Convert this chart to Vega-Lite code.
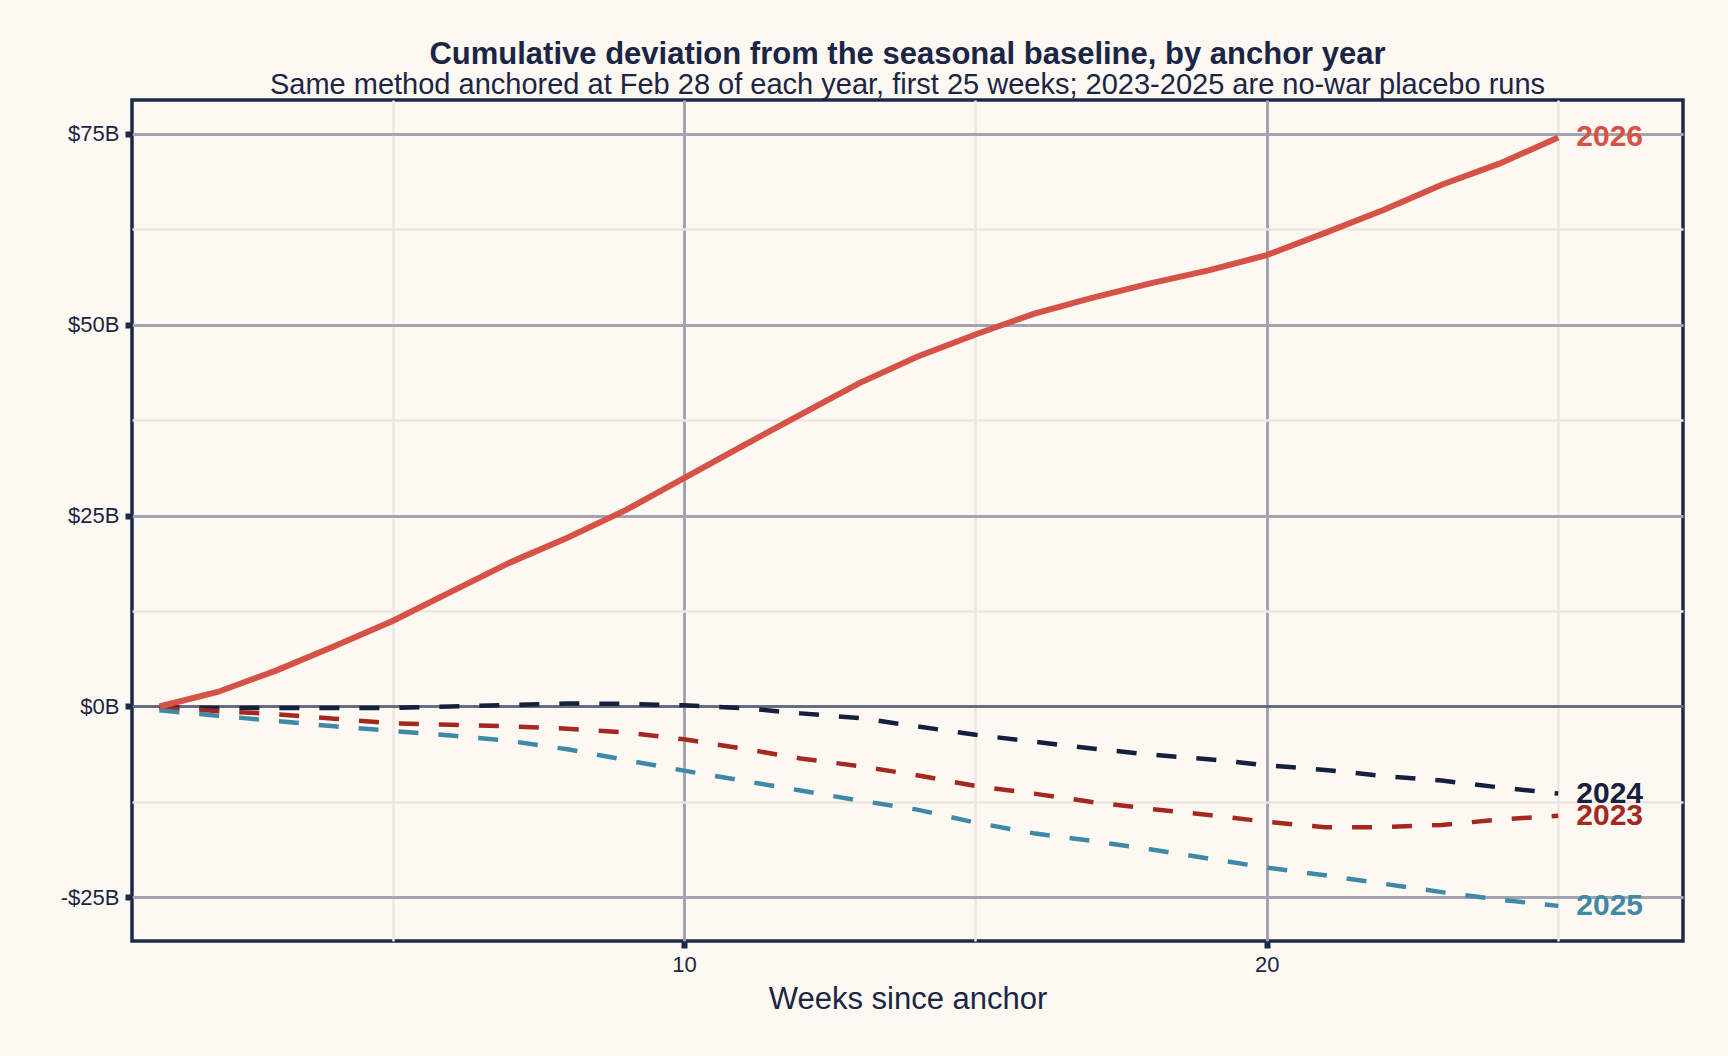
{
  "$schema": "https://vega.github.io/schema/vega-lite/v6.json",
  "width": 1551,
  "height": 841,
  "autosize": {"type": "none"},
  "padding": {"left": 132, "top": 100, "right": 45, "bottom": 115},
  "background": "#fdf8f1",
  "config": {
    "font": "Liberation Sans",
    "view": {"stroke": "#1b2a4a", "strokeWidth": 3.5, "fill": "#fdf8f1"}
  },
  "title": {
    "text": "Cumulative deviation from the seasonal baseline, by anchor year",
    "subtitle": "Same method anchored at Feb 28 of each year, first 25 weeks; 2023-2025 are no-war placebo runs",
    "anchor": "middle",
    "frame": "group",
    "font": "Liberation Sans",
    "fontSize": 31,
    "fontWeight": "bold",
    "color": "#1b2545",
    "subtitleFont": "Liberation Sans",
    "subtitleFontSize": 29,
    "subtitleColor": "#1b2545",
    "subtitlePadding": 0,
    "offset": -1
  },
  "data": {
    "values": [
      {"week": 1, "year": "2026", "value": 0},
      {"week": 2, "year": "2026", "value": 1.9},
      {"week": 3, "year": "2026", "value": 4.7},
      {"week": 4, "year": "2026", "value": 7.9},
      {"week": 5, "year": "2026", "value": 11.2},
      {"week": 6, "year": "2026", "value": 15.0},
      {"week": 7, "year": "2026", "value": 18.8},
      {"week": 8, "year": "2026", "value": 22.1},
      {"week": 9, "year": "2026", "value": 25.7},
      {"week": 10, "year": "2026", "value": 29.9},
      {"week": 11, "year": "2026", "value": 34.1},
      {"week": 12, "year": "2026", "value": 38.2},
      {"week": 13, "year": "2026", "value": 42.3},
      {"week": 14, "year": "2026", "value": 45.8},
      {"week": 15, "year": "2026", "value": 48.7},
      {"week": 16, "year": "2026", "value": 51.4},
      {"week": 17, "year": "2026", "value": 53.5},
      {"week": 18, "year": "2026", "value": 55.4},
      {"week": 19, "year": "2026", "value": 57.1},
      {"week": 20, "year": "2026", "value": 59.1},
      {"week": 21, "year": "2026", "value": 62.0},
      {"week": 22, "year": "2026", "value": 65.0},
      {"week": 23, "year": "2026", "value": 68.3},
      {"week": 24, "year": "2026", "value": 71.1},
      {"week": 25, "year": "2026", "value": 74.5},
      {"week": 1, "year": "2024", "value": -0.1},
      {"week": 2, "year": "2024", "value": -0.2},
      {"week": 3, "year": "2024", "value": -0.2},
      {"week": 4, "year": "2024", "value": -0.2},
      {"week": 5, "year": "2024", "value": -0.2},
      {"week": 6, "year": "2024", "value": 0.0},
      {"week": 7, "year": "2024", "value": 0.2},
      {"week": 8, "year": "2024", "value": 0.4},
      {"week": 9, "year": "2024", "value": 0.35},
      {"week": 10, "year": "2024", "value": 0.15},
      {"week": 11, "year": "2024", "value": -0.2},
      {"week": 12, "year": "2024", "value": -0.9},
      {"week": 13, "year": "2024", "value": -1.5},
      {"week": 14, "year": "2024", "value": -2.6},
      {"week": 15, "year": "2024", "value": -3.7},
      {"week": 16, "year": "2024", "value": -4.6},
      {"week": 17, "year": "2024", "value": -5.5},
      {"week": 18, "year": "2024", "value": -6.3},
      {"week": 19, "year": "2024", "value": -6.9},
      {"week": 20, "year": "2024", "value": -7.7},
      {"week": 21, "year": "2024", "value": -8.3},
      {"week": 22, "year": "2024", "value": -9.1},
      {"week": 23, "year": "2024", "value": -9.7},
      {"week": 24, "year": "2024", "value": -10.6},
      {"week": 25, "year": "2024", "value": -11.4},
      {"week": 1, "year": "2023", "value": -0.2},
      {"week": 2, "year": "2023", "value": -0.6},
      {"week": 3, "year": "2023", "value": -1.0},
      {"week": 4, "year": "2023", "value": -1.6},
      {"week": 5, "year": "2023", "value": -2.2},
      {"week": 6, "year": "2023", "value": -2.4},
      {"week": 7, "year": "2023", "value": -2.6},
      {"week": 8, "year": "2023", "value": -2.9},
      {"week": 9, "year": "2023", "value": -3.4},
      {"week": 10, "year": "2023", "value": -4.3},
      {"week": 11, "year": "2023", "value": -5.5},
      {"week": 12, "year": "2023", "value": -6.8},
      {"week": 13, "year": "2023", "value": -7.8},
      {"week": 14, "year": "2023", "value": -9.0},
      {"week": 15, "year": "2023", "value": -10.4},
      {"week": 16, "year": "2023", "value": -11.4},
      {"week": 17, "year": "2023", "value": -12.5},
      {"week": 18, "year": "2023", "value": -13.4},
      {"week": 19, "year": "2023", "value": -14.2},
      {"week": 20, "year": "2023", "value": -15.1},
      {"week": 21, "year": "2023", "value": -15.8},
      {"week": 22, "year": "2023", "value": -15.8},
      {"week": 23, "year": "2023", "value": -15.5},
      {"week": 24, "year": "2023", "value": -14.8},
      {"week": 25, "year": "2023", "value": -14.3},
      {"week": 1, "year": "2025", "value": -0.5},
      {"week": 2, "year": "2025", "value": -1.2},
      {"week": 3, "year": "2025", "value": -1.9},
      {"week": 4, "year": "2025", "value": -2.6},
      {"week": 5, "year": "2025", "value": -3.2},
      {"week": 6, "year": "2025", "value": -3.8},
      {"week": 7, "year": "2025", "value": -4.5},
      {"week": 8, "year": "2025", "value": -5.6},
      {"week": 9, "year": "2025", "value": -7.0},
      {"week": 10, "year": "2025", "value": -8.4},
      {"week": 11, "year": "2025", "value": -9.7},
      {"week": 12, "year": "2025", "value": -11.0},
      {"week": 13, "year": "2025", "value": -12.3},
      {"week": 14, "year": "2025", "value": -13.5},
      {"week": 15, "year": "2025", "value": -15.2},
      {"week": 16, "year": "2025", "value": -16.6},
      {"week": 17, "year": "2025", "value": -17.6},
      {"week": 18, "year": "2025", "value": -18.7},
      {"week": 19, "year": "2025", "value": -19.9},
      {"week": 20, "year": "2025", "value": -21.1},
      {"week": 21, "year": "2025", "value": -22.1},
      {"week": 22, "year": "2025", "value": -23.2},
      {"week": 23, "year": "2025", "value": -24.3},
      {"week": 24, "year": "2025", "value": -25.3},
      {"week": 25, "year": "2025", "value": -26.1}
    ]
  },
  "resolve": {"axis": {"x": "independent", "y": "independent"}},
  "layer": [
    {
      "mark": {"type": "line", "opacity": 0},
      "encoding": {
        "x": {
          "field": "week", "type": "quantitative",
          "scale": {"domain": [0.53, 27.14], "nice": false, "zero": false},
          "axis": {
            "orient": "top", "values": [5, 15, 25], "labels": false, "ticks": false,
            "domain": false, "title": null, "grid": true,
            "gridColor": "#ece7e0", "gridWidth": 2.5, "gridOpacity": 1
          }
        },
        "y": {
          "field": "value", "type": "quantitative",
          "scale": {"domain": [-30.7, 79.4], "nice": false, "zero": false},
          "axis": {
            "orient": "right", "values": [-12.5, 12.5, 37.5, 62.5], "labels": false, "ticks": false,
            "domain": false, "title": null, "grid": true,
            "gridColor": "#ece7e0", "gridWidth": 2.5, "gridOpacity": 1
          }
        },
        "detail": {"field": "year"}
      }
    },
    {
      "transform": [{"filter": "datum.year !== '2026'"}],
      "mark": {"type": "line", "strokeWidth": 4.5, "strokeDash": [20, 20], "strokeCap": "butt"},
      "encoding": {
        "x": {
          "field": "week", "type": "quantitative",
          "scale": {"domain": [0.53, 27.14], "nice": false, "zero": false},
          "axis": {
            "orient": "bottom", "values": [10, 20], "title": "Weeks since anchor",
            "domain": false, "grid": true, "gridColor": "#a2a5b0", "gridWidth": 3, "gridOpacity": 1,
            "ticks": true, "tickSize": 7, "tickWidth": 6, "tickColor": "#1b2a4a",
            "labelFontSize": 22, "labelColor": "#1b2545", "labelPadding": 6,
            "titleFontSize": 31, "titleFontWeight": "normal", "titleColor": "#1b2545", "titlePadding": 9
          }
        },
        "y": {
          "field": "value", "type": "quantitative",
          "scale": {"domain": [-30.7, 79.4], "nice": false, "zero": false},
          "axis": {
            "orient": "left", "values": [-25, 0, 25, 50, 75], "title": null,
            "labelExpr": "datum.value < 0 ? '-$' + abs(datum.value) + 'B' : '$' + datum.value + 'B'",
            "domain": false, "grid": true,
            "gridColor": {"condition": {"test": "datum.value === 0", "value": "#676c7e"}, "value": "#a2a5b0"},
            "gridWidth": 3, "gridOpacity": 1,
            "ticks": true, "tickSize": 7, "tickWidth": 6, "tickColor": "#1b2a4a",
            "labelFontSize": 22, "labelColor": "#1b2545", "labelPadding": 6
          }
        },
        "color": {
          "field": "year", "type": "nominal",
          "scale": {"domain": ["2023", "2024", "2025", "2026"], "range": ["#a3281f", "#15203f", "#3f89a8", "#d65146"]},
          "legend": null
        }
      }
    },
    {
      "transform": [{"filter": "datum.year === '2026'"}],
      "mark": {"type": "line", "strokeWidth": 6, "color": "#d65146"},
      "encoding": {
        "x": {"field": "week", "type": "quantitative", "scale": {"domain": [0.53, 27.14], "nice": false, "zero": false}, "axis": null},
        "y": {"field": "value", "type": "quantitative", "scale": {"domain": [-30.7, 79.4], "nice": false, "zero": false}, "axis": null}
      }
    },
    {
      "transform": [{"filter": "datum.week === 25"}],
      "mark": {"type": "text", "align": "left", "baseline": "middle", "dx": 18, "fontSize": 30, "fontWeight": "bold"},
      "encoding": {
        "x": {"field": "week", "type": "quantitative", "scale": {"domain": [0.53, 27.14], "nice": false, "zero": false}, "axis": null},
        "y": {"field": "value", "type": "quantitative", "scale": {"domain": [-30.7, 79.4], "nice": false, "zero": false}, "axis": null},
        "text": {"field": "year"},
        "color": {
          "field": "year", "type": "nominal",
          "scale": {"domain": ["2023", "2024", "2025", "2026"], "range": ["#a3281f", "#15203f", "#3f89a8", "#d65146"]},
          "legend": null
        }
      }
    }
  ]
}
